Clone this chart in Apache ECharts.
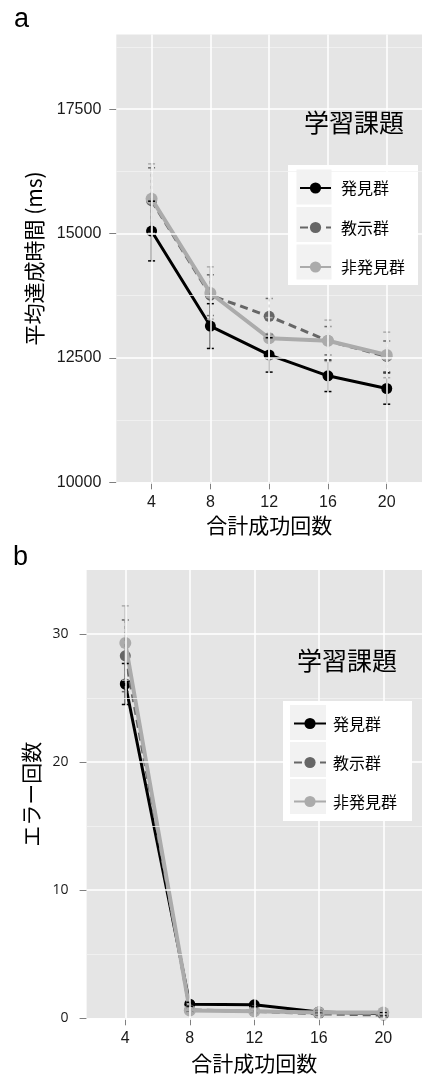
<!DOCTYPE html>
<html>
<head>
<meta charset="utf-8">
<script src="https://cdn.jsdelivr.net/npm/echarts@6/dist/echarts.min.js"></script>
<style>
html, body { margin: 0; padding: 0; background: #fff; overflow: hidden; }
#main { width: 422px; height: 1075px; }
</style>
</head>
<body>
<div id="main"></div>
<script>
// 合計成功回数
var trials = [4, 8, 12, 16, 20]
var groups = ['発見群', '教示群', '非発見群']

// a: 平均達成時間 (ms), mean and SE
var timeDiscovery = [15050, 13140, 12560, 12140, 11885]
var timeDiscoverySe = [600, 450, 345, 316, 315]
var timeTeach = [15660, 13760, 13335, 12845, 12530]
var timeTeachSe = [660, 410, 360, 285, 310]
var timeNonDiscovery = [15700, 13805, 12895, 12845, 12560]
var timeNonDiscoverySe = [700, 525, 415, 415, 458]

// b: エラー回数, mean and SE
var errDiscovery = [26.1, 1.1, 1.05, 0.5, 0.35]
var errDiscoverySe = [1.6, 0.15, 0.15, 0.1, 0.1]
var errTeach = [28.3, 0.65, 0.55, 0.35, 0.25]
var errTeachSe = [2.8, 0.15, 0.15, 0.1, 0.1]
var errNonDiscovery = [29.3, 0.6, 0.55, 0.45, 0.45]
var errNonDiscoverySe = [2.9, 0.15, 0.15, 0.12, 0.12]

// tick labels
var timeTicks = [10000, 12500, 15000, 17500]
var timeMinor = [11250, 13750, 16250, 18750]
var errTicks = [0, 10, 20, 30]
var errMinor = [5, 15, 25]

var colors = ['#000000', '#666666', '#ababab']
var jp = 'Noto Sans CJK JP'

var chart = echarts.init(document.getElementById('main'))

function gridSeries (idx, majors, minors) {
  var lines = []
  minors.forEach(function (v) {
    lines.push({ yAxis: v, lineStyle: { color: '#f2f2f2', width: 0.8, type: 'solid' } })
  })
  majors.forEach(function (v) {
    lines.push({ yAxis: v, lineStyle: { color: '#ffffff', width: 1.5, type: 'solid' } })
  })
  trials.forEach(function (v) {
    lines.push({ xAxis: v, lineStyle: { color: '#ffffff', width: 1.5, type: 'solid' } })
  })
  return {
    type: 'line',
    xAxisIndex: idx,
    yAxisIndex: idx,
    data: [],
    z: 1,
    silent: true,
    animation: false,
    markLine: {
      symbol: 'none',
      silent: true,
      animation: false,
      label: { show: false },
      lineStyle: { type: 'solid' },
      data: lines
    }
  }
}

function lineSeries (idx, g, mean) {
  return {
    type: 'line',
    name: groups[g],
    xAxisIndex: idx,
    yAxisIndex: idx,
    data: trials.map(function (t, i) { return [t, mean[i]] }),
    symbol: 'circle',
    symbolSize: g === 2 ? 12 : 11,
    showAllSymbol: true,
    itemStyle: { color: colors[g] },
    lineStyle: { color: colors[g], width: g === 2 ? 4 : 3, type: g === 1 ? [8, 5] : 'solid' },
    z: 3 + g * 0.1,
    animation: false
  }
}

function errSeries (idx, g, mean, se) {
  var dash = g === 1 ? [3, 3] : null
  return {
    type: 'custom',
    xAxisIndex: idx,
    yAxisIndex: idx,
    data: trials.map(function (t, i) { return [t, mean[i] - se[i], mean[i] + se[i]] }),
    encode: { x: 0, y: [1, 2] },
    z: 4,
    silent: true,
    animation: false,
    renderItem: function (params, api) {
      var x = api.value(0)
      var top = api.coord([x, api.value(2)])
      var bot = api.coord([x, api.value(1)])
      var w = 3.5
      var style = { stroke: colors[g], lineWidth: 1.5, lineDash: dash }
      return {
        type: 'group',
        children: [
          { type: 'line', shape: { x1: top[0], y1: top[1], x2: bot[0], y2: bot[1] }, style: style },
          { type: 'line', shape: { x1: top[0] - w, y1: top[1], x2: top[0] + w, y2: top[1] }, style: style },
          { type: 'line', shape: { x1: bot[0] - w, y1: bot[1], x2: bot[0] + w, y2: bot[1] }, style: style }
        ]
      }
    }
  }
}

function plain (v) {
  return String(v)
}

function xAxis (idx, gap) {
  return {
    type: 'value',
    gridIndex: idx,
    min: 1.6,
    max: 22.4,
    name: '合計成功回数',
    nameLocation: 'middle',
    nameGap: gap,
    nameTextStyle: { fontFamily: jp, fontSize: 21, color: '#000' },
    axisLine: { show: false },
    axisTick: { show: true, length: 7, customValues: trials, lineStyle: { color: '#7f7f7f', width: 1 } },
    axisLabel: { customValues: trials, formatter: plain, margin: 12, fontFamily: 'Liberation Sans', fontSize: 16, color: '#1a1a1a' },
    splitLine: { show: false }
  }
}

function yAxis (idx, min, max, ticks, name, gap, margin, font, size) {
  return {
    type: 'value',
    gridIndex: idx,
    min: min,
    max: max,
    name: name,
    nameLocation: 'middle',
    nameGap: gap,
    nameTextStyle: { fontFamily: jp, fontSize: 21, color: '#000' },
    axisLine: { show: false },
    axisTick: { show: true, length: 7, customValues: ticks, lineStyle: { color: '#7f7f7f', width: 1 } },
    axisLabel: { customValues: ticks, formatter: plain, margin: margin, fontFamily: font, fontSize: size, color: '#1a1a1a' },
    splitLine: { show: false }
  }
}

function legend (left, top, gap, w, pad) {
  return {
    data: groups,
    left: left,
    top: top,
    orient: 'vertical',
    itemWidth: w,
    itemHeight: 14,
    itemGap: gap,
    padding: 0,
    selectedMode: false,
    z: 7,
    textStyle: { fontFamily: jp, fontSize: 16, color: '#000', lineHeight: 14, padding: [0, 0, 0, pad] }
  }
}

function keyCells (x, y, w, h, pitch) {
  return [0, 1, 2].map(function (i) {
    return { type: 'rect', z: 6, shape: { x: x, y: y + i * pitch, width: w, height: h }, style: { fill: '#f2f2f2' } }
  })
}

var graphics = [
  { type: 'text', z: 8, style: { text: 'a', x: 14, y: 20, fontSize: 27, fontFamily: 'Liberation Sans', fill: '#000', verticalAlign: 'middle' } },
  { type: 'text', z: 8, style: { text: 'b', x: 13, y: 558, fontSize: 27, fontFamily: 'Liberation Sans', fill: '#000', verticalAlign: 'middle' } },
  { type: 'text', z: 8, style: { text: '学習課題', x: 354, y: 122, fontSize: 25, fontFamily: jp, fill: '#000', align: 'center', verticalAlign: 'middle' } },
  { type: 'text', z: 8, style: { text: '学習課題', x: 347, y: 660, fontSize: 25, fontFamily: jp, fill: '#000', align: 'center', verticalAlign: 'middle' } },
  { type: 'rect', z: 5, shape: { x: 288, y: 165, width: 130, height: 120 }, style: { fill: '#ffffff' } },
  { type: 'rect', z: 5, shape: { x: 283, y: 701, width: 129, height: 120 }, style: { fill: '#ffffff' } }
].concat(keyCells(296.5, 169.5, 35, 35, 37.5)).concat(keyCells(290, 705, 36, 35, 37))

chart.setOption({
  backgroundColor: '#ffffff',
  animation: false,
  grid: [
    { left: 116.3, top: 34.5, width: 309.4, height: 447.8, show: true, backgroundColor: '#e5e5e5', borderWidth: 0 },
    { left: 86.6, top: 570, width: 341.1, height: 448.3, show: true, backgroundColor: '#e5e5e5', borderWidth: 0 }
  ],
  xAxis: [xAxis(0, 32), xAxis(1, 34)],
  yAxis: [
    yAxis(0, 10000, 19000, timeTicks, '平均達成時間 (ms)', 72, 15, 'Liberation Sans', 16),
    yAxis(1, 0, 35, errTicks, 'エラー回数', 43, 18, 'Open Sans', 14)
  ],
  legend: [legend(299, 180, 23.5, 31, 5), legend(293, 715.5, 23, 32, 2)],
  graphic: graphics,
  series: [
    gridSeries(0, timeTicks, timeMinor),
    gridSeries(1, errTicks, errMinor),
    lineSeries(0, 0, timeDiscovery),
    lineSeries(0, 1, timeTeach),
    lineSeries(0, 2, timeNonDiscovery),
    errSeries(0, 0, timeDiscovery, timeDiscoverySe),
    errSeries(0, 1, timeTeach, timeTeachSe),
    errSeries(0, 2, timeNonDiscovery, timeNonDiscoverySe),
    lineSeries(1, 0, errDiscovery),
    lineSeries(1, 1, errTeach),
    lineSeries(1, 2, errNonDiscovery),
    errSeries(1, 0, errDiscovery, errDiscoverySe),
    errSeries(1, 1, errTeach, errTeachSe),
    errSeries(1, 2, errNonDiscovery, errNonDiscoverySe)
  ]
})
</script>
</body>
</html>
